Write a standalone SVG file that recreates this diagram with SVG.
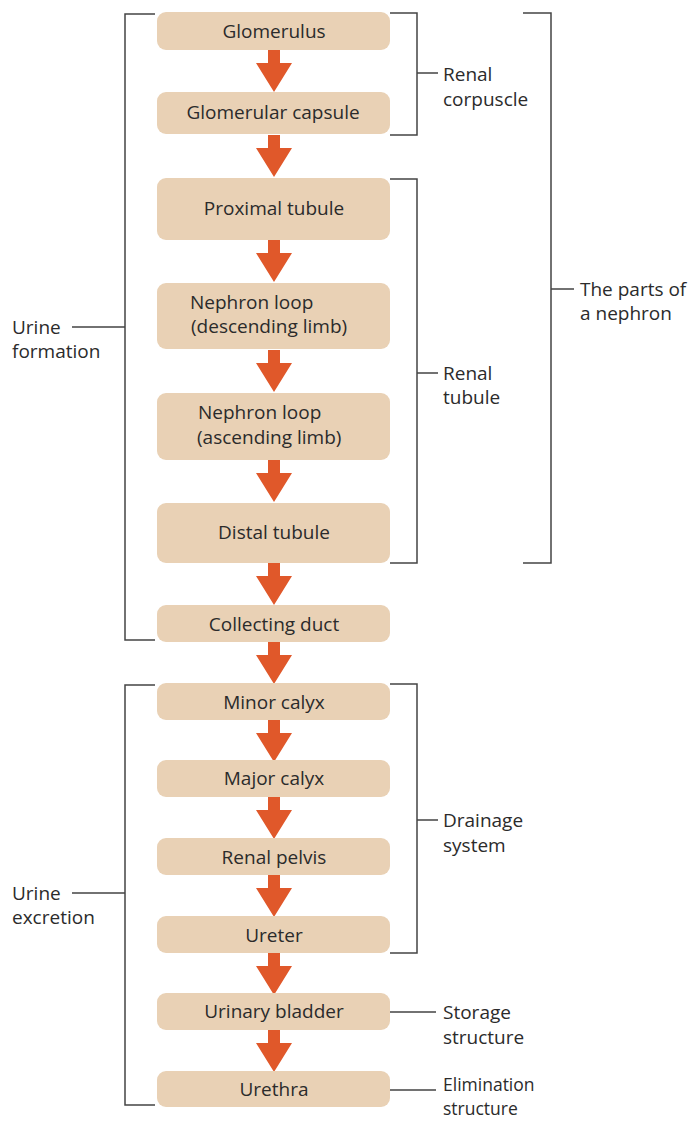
<svg xmlns="http://www.w3.org/2000/svg" width="693" height="1121" viewBox="0 0 693 1121">
<style>
.box{fill:#e9d1b5}
.t{font-family:"Open Sans",sans-serif;font-size:19px;fill:#2b2b2b;text-anchor:middle}
.s{font-family:"Open Sans",sans-serif;font-size:19px;fill:#2b2b2b}
.l{font-family:"Open Sans",sans-serif;font-size:19px;fill:#2b2b2b}
.b{font-size:17.5px}
.br{fill:none;stroke:#444;stroke-width:1.5}
.ar{fill:#e0582a}
</style>
<defs>
<path id="arr" d="M-6,0 H6 V13 H18 L0,42 L-18,13 H-6 Z"/>
</defs>
<rect width="693" height="1121" fill="#fff"/>
<g id="connectors">
<use href="#arr" class="ar" x="274" y="50"/>
<use href="#arr" class="ar" x="274" y="135"/>
<use href="#arr" class="ar" x="274" y="240"/>
<use href="#arr" class="ar" x="274" y="350"/>
<use href="#arr" class="ar" x="274" y="460"/>
<use href="#arr" class="ar" x="274" y="563"/>
<use href="#arr" class="ar" x="274" y="642"/>
<use href="#arr" class="ar" x="274" y="720"/>
<use href="#arr" class="ar" x="274" y="797"/>
<use href="#arr" class="ar" x="274" y="875"/>
<use href="#arr" class="ar" x="274" y="953"/>
<use href="#arr" class="ar" x="274" y="1030"/>
</g>
<g id="n1"><rect class="box" x="157" y="12" width="233" height="38" rx="9"/><text class="t" x="274" y="38">Glomerulus</text></g>
<g id="n2"><rect class="box" x="157" y="92" width="233" height="42" rx="9"/><text class="t" x="273" y="119">Glomerular capsule</text></g>
<g id="n3"><rect class="box" x="157" y="178" width="233" height="62" rx="9"/><text class="t" x="274" y="215">Proximal tubule</text></g>
<g id="n4"><rect class="box" x="157" y="283" width="233" height="66" rx="9"/><text class="s" x="190" y="309">Nephron loop</text><text class="s" x="191" y="333">(descending limb)</text></g>
<g id="n5"><rect class="box" x="157" y="393" width="233" height="67" rx="9"/><text class="s" x="198" y="419">Nephron loop</text><text class="s" x="197" y="444">(ascending limb)</text></g>
<g id="n6"><rect class="box" x="157" y="503" width="233" height="60" rx="9"/><text class="t" x="274" y="539">Distal tubule</text></g>
<g id="n7"><rect class="box" x="157" y="605" width="233" height="37" rx="9"/><text class="t" x="274" y="631">Collecting duct</text></g>
<g id="n8"><rect class="box" x="157" y="683" width="233" height="37" rx="9"/><text class="t" x="274" y="709">Minor calyx</text></g>
<g id="n9"><rect class="box" x="157" y="760" width="233" height="37" rx="9"/><text class="t" x="274" y="785">Major calyx</text></g>
<g id="n10"><rect class="box" x="157" y="838" width="233" height="37" rx="9"/><text class="t" x="274" y="864">Renal pelvis</text></g>
<g id="n11"><rect class="box" x="157" y="916" width="233" height="37" rx="9"/><text class="t" x="274" y="942">Ureter</text></g>
<g id="n12"><rect class="box" x="157" y="993" width="233" height="37" rx="9"/><text class="t" x="274" y="1018">Urinary bladder</text></g>
<g id="n13"><rect class="box" x="157" y="1071" width="233" height="36" rx="9"/><text class="t" x="274" y="1096">Urethra</text></g>
<g id="brackets">
<path class="br" d="M155,14 H125 V640 H155 M125,327 H72"/>
<path class="br" d="M155,685 H125 V1105 H155 M125,893 H72"/>
<path class="br" d="M390,13 H417 V135 H390 M417,73 H438"/>
<path class="br" d="M390,179 H417 V563 H390 M417,373 H438"/>
<path class="br" d="M523,13 H551 V563 H523 M551,289 H574"/>
<path class="br" d="M390,684 H417 V953 H390 M417,820 H438"/>
<path class="br" d="M390,1012 H436 M390,1090 H436"/>
</g>
<g id="labels">
<text class="l" x="12" y="334">Urine</text><text class="l" x="12" y="358">formation</text>
<text class="l" x="12" y="900">Urine</text><text class="l" x="12" y="924">excretion</text>
<text class="l" x="443" y="81">Renal</text><text class="l" x="443" y="106">corpuscle</text>
<text class="l" x="443" y="380">Renal</text><text class="l" x="443" y="404">tubule</text>
<text class="l" x="580" y="296">The parts of</text><text class="l" x="580" y="320">a nephron</text>
<text class="l" x="443" y="827">Drainage</text><text class="l" x="443" y="852">system</text>
<text class="l" x="443" y="1019">Storage</text><text class="l" x="443" y="1044">structure</text>
<text class="l b" x="443" y="1091">Elimination</text><text class="l b" x="443" y="1115">structure</text>
</g>
</svg>
